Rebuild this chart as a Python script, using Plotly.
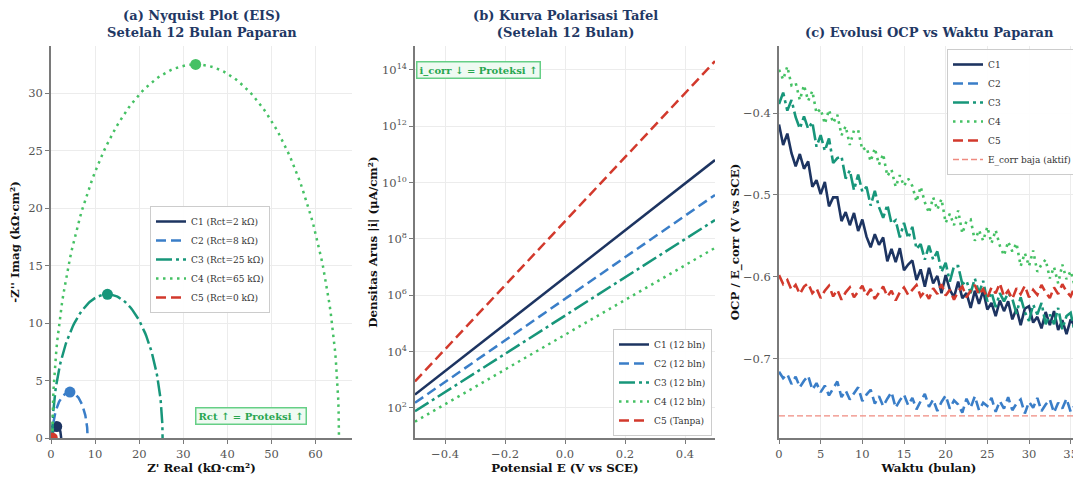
import numpy as np
import plotly.graph_objects as go

# ---------------- data ----------------
coatings = ["C1", "C2", "C3", "C4", "C5"]
colors = ["#1d3461", "#3a7ec8", "#17967a", "#45c164", "#d2392c"]
dashes = ["solid", "10px,5px", "16px,4px,3px,4px", "2.5px,4.5px", "10px,5px"]

# (a) Nyquist: charge-transfer resistance per coating, kOhm.cm2
rct_kohm = [2, 8, 25, 65, 0]
rs_kohm = 0.3

# (b) Tafel: log10 |i| at the ends of the potential sweep
tafel_E = [-0.5, 0.5]
tafel_log_i = {
    "C1": [2.47, 10.80],
    "C2": [2.18, 9.56],
    "C3": [1.88, 8.67],
    "C4": [1.51, 7.68],
    "C5": [2.94, 14.31],
}
tafel_names = ["C1 (12 bln)", "C2 (12 bln)", "C3 (12 bln)", "C4 (12 bln)", "C5 (Tanpa)"]

# (c) OCP over exposure time (months, every half month)
months = np.arange(0, 36.5, 0.5)
ocp = {
    "C1": [-0.414, -0.439, -0.425, -0.449, -0.465, -0.450, -0.468, -0.459, -0.490, -0.482,
           -0.499, -0.484, -0.514, -0.503, -0.503, -0.532, -0.521, -0.537, -0.522, -0.544,
           -0.530, -0.551, -0.564, -0.548, -0.561, -0.552, -0.581, -0.566, -0.582, -0.565,
           -0.592, -0.585, -0.580, -0.604, -0.591, -0.612, -0.589, -0.608, -0.599, -0.620,
           -0.598, -0.616, -0.625, -0.606, -0.626, -0.620, -0.638, -0.617, -0.633, -0.617,
           -0.640, -0.632, -0.648, -0.629, -0.642, -0.630, -0.652, -0.639, -0.659, -0.639,
           -0.636, -0.656, -0.649, -0.663, -0.643, -0.659, -0.642, -0.665, -0.653, -0.670,
           -0.652, -0.661, -0.650],
    "C2": [-0.716, -0.724, -0.719, -0.731, -0.722, -0.735, -0.727, -0.721, -0.738, -0.730,
           -0.741, -0.733, -0.745, -0.736, -0.728, -0.747, -0.739, -0.750, -0.742, -0.735,
           -0.752, -0.744, -0.738, -0.755, -0.746, -0.758, -0.749, -0.741, -0.760, -0.751,
           -0.744, -0.757, -0.748, -0.762, -0.752, -0.743, -0.759, -0.750, -0.764, -0.753,
           -0.745, -0.761, -0.751, -0.756, -0.766, -0.749, -0.760, -0.746, -0.763, -0.754,
           -0.758, -0.748, -0.765, -0.752, -0.761, -0.747, -0.763, -0.755, -0.750, -0.767,
           -0.753, -0.760, -0.748, -0.764, -0.756, -0.750, -0.766, -0.754, -0.761, -0.749,
           -0.765, -0.757, -0.762],
    "C3": [-0.389, -0.375, -0.397, -0.384, -0.405, -0.419, -0.404, -0.419, -0.411, -0.441,
           -0.427, -0.446, -0.431, -0.461, -0.455, -0.453, -0.480, -0.470, -0.494, -0.475,
           -0.496, -0.490, -0.513, -0.495, -0.515, -0.528, -0.512, -0.535, -0.531, -0.552,
           -0.534, -0.553, -0.539, -0.566, -0.560, -0.579, -0.562, -0.579, -0.569, -0.594,
           -0.583, -0.606, -0.587, -0.587, -0.609, -0.605, -0.620, -0.602, -0.620, -0.605,
           -0.630, -0.619, -0.637, -0.620, -0.630, -0.620, -0.627, -0.645, -0.625, -0.643,
           -0.654, -0.634, -0.646, -0.632, -0.658, -0.646, -0.658, -0.638, -0.664, -0.648,
           -0.644, -0.669, -0.654],
    "C4": [-0.347, -0.359, -0.343, -0.366, -0.363, -0.384, -0.366, -0.385, -0.373, -0.400,
           -0.395, -0.413, -0.396, -0.412, -0.402, -0.427, -0.416, -0.439, -0.421, -0.421,
           -0.445, -0.442, -0.459, -0.443, -0.463, -0.450, -0.477, -0.469, -0.490, -0.476,
           -0.489, -0.480, -0.489, -0.508, -0.490, -0.509, -0.522, -0.503, -0.518, -0.505,
           -0.534, -0.523, -0.537, -0.519, -0.547, -0.532, -0.530, -0.556, -0.543, -0.556,
           -0.539, -0.559, -0.543, -0.562, -0.574, -0.557, -0.569, -0.559, -0.587, -0.571,
           -0.587, -0.568, -0.594, -0.585, -0.579, -0.602, -0.588, -0.608, -0.585, -0.603,
           -0.593, -0.612, -0.590],
    "C5": [-0.598, -0.609, -0.604, -0.616, -0.610, -0.621, -0.612, -0.608, -0.620, -0.614,
           -0.626, -0.617, -0.611, -0.624, -0.616, -0.628, -0.619, -0.613, -0.625, -0.618,
           -0.611, -0.623, -0.615, -0.627, -0.620, -0.612, -0.624, -0.617, -0.629, -0.619,
           -0.613, -0.622, -0.616, -0.610, -0.624, -0.618, -0.627, -0.614, -0.621, -0.609,
           -0.623, -0.616, -0.628, -0.618, -0.612, -0.625, -0.617, -0.610, -0.622, -0.615,
           -0.626, -0.613, -0.620, -0.608, -0.624, -0.617, -0.627, -0.614, -0.621, -0.611,
           -0.625, -0.616, -0.622, -0.610, -0.619, -0.626, -0.613, -0.621, -0.609, -0.618,
           -0.624, -0.612, -0.619],
}
ecorr_steel = -0.770

# ---------------- styling ----------------
SERIF = "DejaVu Serif"
TITLE_C = "#1f3864"
W, H = 1100, 478

fig = go.Figure()

# (a) Nyquist semicircles with apex markers
theta = np.linspace(np.pi, 0, 120)
for name, rct, col, dash in zip(coatings, rct_kohm, colors, dashes):
    r = rct / 2
    zr = rs_kohm + r + r * np.cos(theta)
    zi = r * np.sin(theta)
    fig.add_trace(go.Scatter(
        x=zr, y=zi, mode="lines", name=f"{name} (Rct={rct} kΩ)",
        line=dict(color=col, width=2.5, dash=dash),
        xaxis="x", yaxis="y", legend="legend"))
    fig.add_trace(go.Scatter(
        x=[rs_kohm + r], y=[r], mode="markers", showlegend=False,
        marker=dict(color=col, size=11), xaxis="x", yaxis="y"))

# (b) Tafel lines
for name, label, col, dash in zip(coatings, tafel_names, colors, dashes):
    fig.add_trace(go.Scatter(
        x=tafel_E, y=[10 ** v for v in tafel_log_i[name]], mode="lines", name=label,
        line=dict(color=col, width=2.5, dash=dash),
        xaxis="x2", yaxis="y2", legend="legend2"))

# (c) OCP evolution
for name, col, dash in zip(coatings, colors, dashes):
    fig.add_trace(go.Scatter(
        x=months, y=ocp[name], mode="lines", name=name,
        line=dict(color=col, width=2.6, dash=dash),
        xaxis="x3", yaxis="y3", legend="legend3"))
fig.add_trace(go.Scatter(
    x=[0, 36], y=[ecorr_steel, ecorr_steel], mode="lines", name="E_corr baja (aktif)",
    line=dict(color="#ef8a80", width=1.3, dash="6px,3px"),
    xaxis="x3", yaxis="y3", legend="legend3"))

ydom = [40 / H, 1 - 46 / H]
axis_common = dict(
    showline=True, linecolor="#7a7a7a", linewidth=1.6, mirror=False,
    showgrid=True, gridcolor="#ececec", gridwidth=1, zeroline=False,
    ticks="outside", ticklen=4, tickcolor="#7a7a7a", tickwidth=1,
    tickfont=dict(family=SERIF, size=11.5, color="#555555"),
    automargin=False,
)
title_font = dict(family=SERIF, size=11.8, color="#111111", weight="bold")

def px_dom(a, b):
    return [a / W, b / W]

legend_common = dict(
    bgcolor="rgba(255,255,255,0.92)", bordercolor="#cccccc", borderwidth=1,
    font=dict(family=SERIF, size=9, color="#333333"), itemwidth=30,
    tracegroupgap=0,
)

fig.update_layout(
    width=W, height=H,
    margin=dict(l=0, r=0, t=0, b=0),
    paper_bgcolor="white", plot_bgcolor="white",
    xaxis=dict(domain=px_dom(51, 352), range=[0, 68.25], dtick=10, tick0=0, anchor="y",
               title=dict(text="Z' Real (kΩ·cm²)", font=title_font, standoff=2), **axis_common),
    yaxis=dict(domain=ydom, range=[0, 34.1], dtick=5, tick0=0, anchor="x",
               title=dict(text="-Z'' Imag (kΩ·cm²)", font=title_font, standoff=6), **axis_common),
    xaxis2=dict(domain=px_dom(415, 715), range=[-0.5, 0.5], dtick=0.2, tick0=-0.4,
                tickformat=".1f", anchor="y2",
                title=dict(text="Potensial E (V vs SCE)", font=title_font, standoff=2), **axis_common),
    yaxis2=dict(domain=ydom, type="log", range=[0.93, 14.85], anchor="x2",
                tickvals=[10 ** k for k in (2, 4, 6, 8, 10, 12, 14)],
                ticktext=[f"10<sup>{k}</sup>" for k in (2, 4, 6, 8, 10, 12, 14)],
                title=dict(text="Densitas Arus |i| (μA/cm²)", font=title_font, standoff=2),
                **axis_common),
    xaxis3=dict(domain=px_dom(779, 1079), range=[0, 36], dtick=5, tick0=0, anchor="y3",
                title=dict(text="Waktu (bulan)", font=title_font, standoff=2), **axis_common),
    yaxis3=dict(domain=ydom, range=[-0.797, -0.318], dtick=0.1, tick0=-0.4, tickformat=".1f",
                anchor="x3",
                title=dict(text="OCP / E_corr (V vs SCE)", font=title_font, standoff=1),
                **axis_common),
    legend=dict(x=150 / W, y=1 - 206 / H, xanchor="left", yanchor="top", **legend_common),
    legend2=dict(x=712 / W, y=1 - 436 / H, xanchor="right", yanchor="bottom", **legend_common),
    legend3=dict(x=947 / W, y=1 - 49 / H, xanchor="left", yanchor="top", **legend_common),
)

# panel titles
titles = [
    ("(a) Nyquist Plot (EIS)<br>Setelah 12 Bulan Paparan", (51 + 352) / 2),
    ("(b) Kurva Polarisasi Tafel<br>(Setelah 12 Bulan)", (415 + 715) / 2),
    ("(c) Evolusi OCP vs Waktu Paparan", (779 + 1079) / 2),
]
for text, cx in titles:
    fig.add_annotation(
        text=text, x=cx / W, y=1 - 42 / H, xref="paper", yref="paper",
        xanchor="center", yanchor="bottom", showarrow=False,
        font=dict(family=SERIF, size=13, color=TITLE_C, weight="bold"))

# in-plot notes
note_style = dict(xref="paper", yref="paper", showarrow=False, xanchor="center", yanchor="middle",
                  font=dict(family=SERIF, size=10, color="#28a650", weight="bold"),
                  bgcolor="#effaf2", bordercolor="#66cf86", borderwidth=1.5, borderpad=2)
fig.add_annotation(text="Rct ↑ = Proteksi ↑", x=251 / W, y=1 - 416 / H, **note_style)
fig.add_annotation(text="i_corr ↓ = Proteksi ↑", x=478 / W, y=1 - 70 / H, **note_style)

fig.write_html(
    "out.html",
    post_script="document.documentElement.style.overflow='hidden';"
                "document.body.style.overflow='hidden';document.body.style.margin='0';",
)
